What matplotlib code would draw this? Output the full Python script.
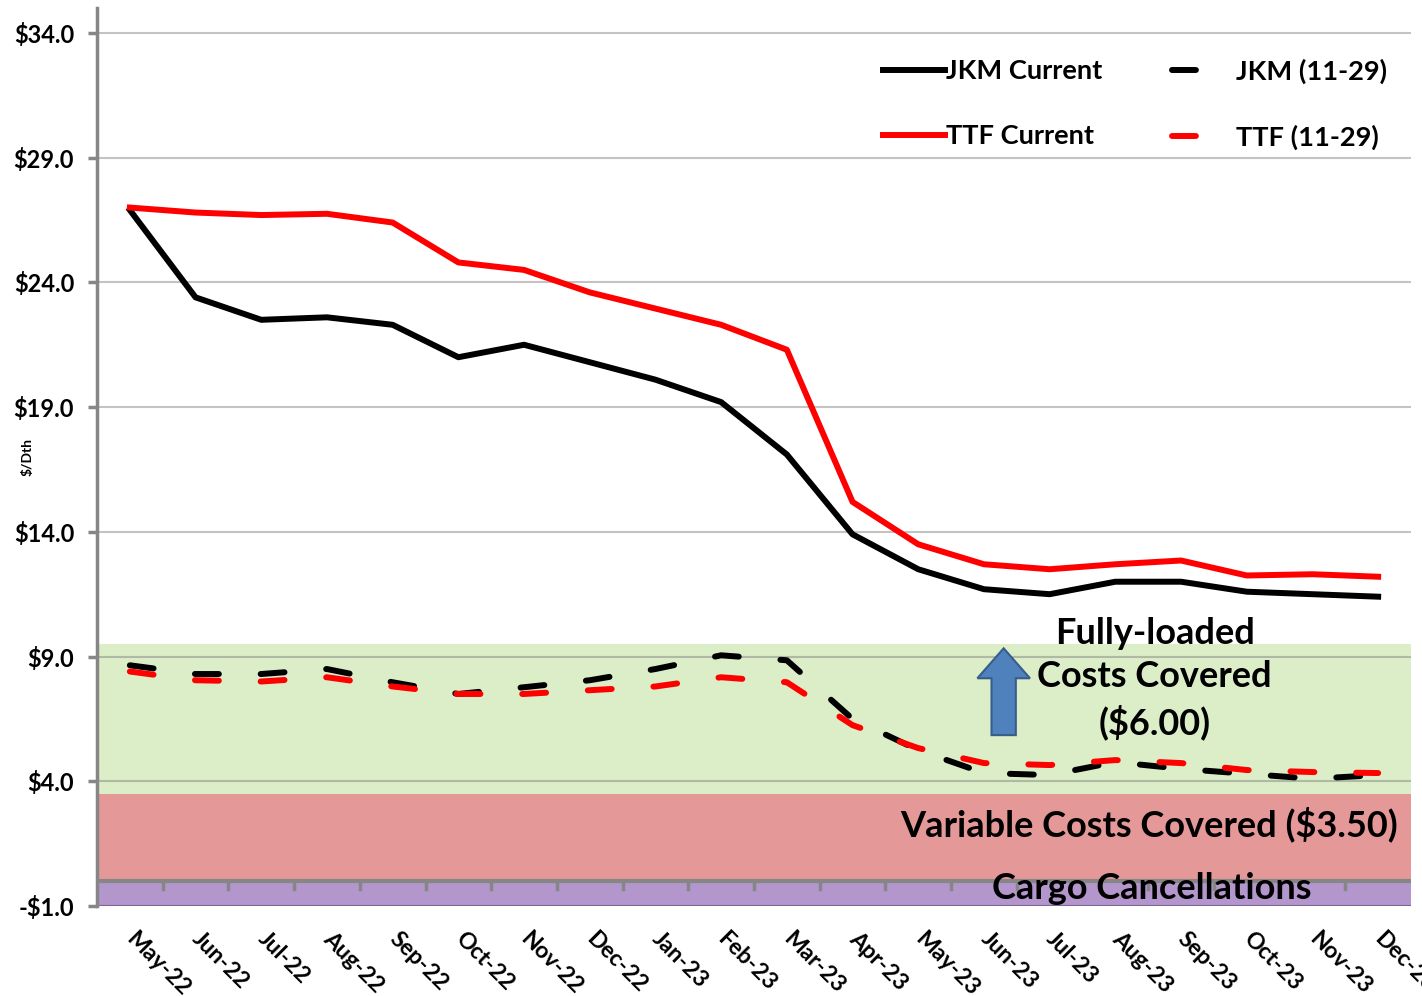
import numpy as np
import matplotlib
matplotlib.use("Agg")
import matplotlib.pyplot as plt
from matplotlib.patches import FancyArrow

plt.rcParams['font.family'] = ['Lato', 'DejaVu Sans']
plt.rcParams['font.weight'] = 'bold'

months = ["May-22", "Jun-22", "Jul-22", "Aug-22", "Sep-22", "Oct-22", "Nov-22",
          "Dec-22", "Jan-23", "Feb-23", "Mar-23", "Apr-23", "May-23", "Jun-23",
          "Jul-23", "Aug-23", "Sep-23", "Oct-23", "Nov-23", "Dec-23"]

jkm_current = [26.9, 23.4, 22.5, 22.6, 22.3, 21.0, 21.5, 20.8, 20.1, 19.2,
               17.1, 13.9, 12.5, 11.7, 11.5, 12.0, 12.0, 11.6, 11.5, 11.4]
ttf_current = [27.0, 26.8, 26.7, 26.75, 26.4, 24.8, 24.5, 23.6, 22.95, 22.3,
               21.3, 15.2, 13.5, 12.7, 12.5, 12.7, 12.85, 12.25, 12.3, 12.2]
jkm_1129 = [8.65, 8.3, 8.3, 8.5, 7.97, 7.5, 7.77, 8.05, 8.5, 9.05,
            8.85, 6.5, 5.25, 4.33, 4.25, 4.77, 4.5, 4.3, 4.1, 4.25]
ttf_1129 = [8.4, 8.05, 8.0, 8.17, 7.8, 7.5, 7.5, 7.65, 7.8, 8.17,
            7.97, 6.25, 5.33, 4.73, 4.65, 4.85, 4.73, 4.45, 4.37, 4.33]

# cost bands (bottom, top)
cancel_band = (-1.0, 0.0)
variable_band = (0.0, 3.5)
fully_band = (3.5, 9.5)

yticks = [-1, 4, 9, 14, 19, 24, 29, 34]

fig = plt.figure(figsize=(14.22, 9.96), dpi=100)
ax = fig.add_axes([97/1422, 1-906/996, 1314/1422, 898/996])

x = np.arange(len(months))
ax.set_xlim(-0.5, len(months)-0.5)
ax.set_ylim(-1, 35)

ax.axhspan(*cancel_band, color='#B396CC', zorder=0, lw=0)
ax.axhspan(*variable_band, color='#E49897', zorder=0, lw=0)
ax.axhspan(*fully_band, color='#DBEEC8', zorder=0, lw=0)

for yt in yticks[1:]:
    ax.axhline(yt, color='#7a7a7a', alpha=0.45, lw=1.5, zorder=1)
ax.axhline(-1, color='#7E639A', lw=1.5, zorder=1)
ax.axhline(0, color='#868686', lw=3, zorder=2)

lw = 4.3
ax.plot(x, jkm_current, color='black', lw=lw, label='JKM Current', zorder=3)
ax.plot(x, ttf_current, color='#FF0000', lw=lw, label='TTF Current', zorder=3)
ax.plot(x, jkm_1129, color='black', lw=lw, label='JKM (11-29)', zorder=3,
        dashes=(4, 7), dash_capstyle='round')
ax.plot(x, ttf_1129, color='#FF0000', lw=lw, label='TTF (11-29)', zorder=3,
        dashes=(4, 7), dash_capstyle='round')

for s in ['top', 'right', 'bottom']:
    ax.spines[s].set_visible(False)
ax.spines['left'].set_color('#868686')
ax.spines['left'].set_linewidth(2.5)

ax.set_yticks(yticks)
ax.set_yticklabels([f"-${abs(v):.1f}" if v < 0 else f"${v:.1f}" for v in yticks],
                   fontsize=17, fontweight='bold')
ax.tick_params(axis='y', length=6.5, width=2.5, color='#868686', pad=10)

ax.set_xticks(x)
ax.set_xticklabels(months, fontsize=16.5, fontweight='bold', rotation=-45,
                   ha='left', va='center', rotation_mode='anchor')
ax.tick_params(axis='x', length=0, pad=21)

# boundary ticks under the zero line
for b in np.arange(0.5, len(months)-0.5, 1.0):
    ax.plot([b, b], [0, -0.3], color='#868686', lw=2.5, zorder=2)

ax.set_ylabel('$/Dth', fontsize=10, fontweight='bold')
ax.yaxis.set_label_coords(-0.048, 0.5)

ax.legend(ncol=2, loc='upper left', bbox_to_anchor=(0.598, 0.944),
          frameon=False, fontsize=19.6, handlelength=2.28, handletextpad=0.05,
          labelspacing=1.5, columnspacing=2.57, borderpad=0, borderaxespad=0)

ax.text(15.6, 8.12, "Fully-loaded\nCosts Covered\n($6.00)", ha='center', va='center',
        fontsize=26, fontweight='bold', linespacing=1.37, zorder=4)
ax.text(19.3, 2.28, "Variable Costs Covered ($3.50)", ha='right', va='center',
        fontsize=26, fontweight='bold', zorder=4)
ax.text(15.55, -0.3, "Cargo Cancellations", ha='center', va='center',
        fontsize=26, fontweight='bold', zorder=4)

arrow = FancyArrow(13.3, 5.85, 0, 3.48, width=0.37, head_width=0.8,
                   head_length=1.2, length_includes_head=True,
                   facecolor='#4F81BD', edgecolor='#385D8A', lw=1.5, zorder=4)
ax.add_patch(arrow)

fig.savefig('out.png', dpi=100)
